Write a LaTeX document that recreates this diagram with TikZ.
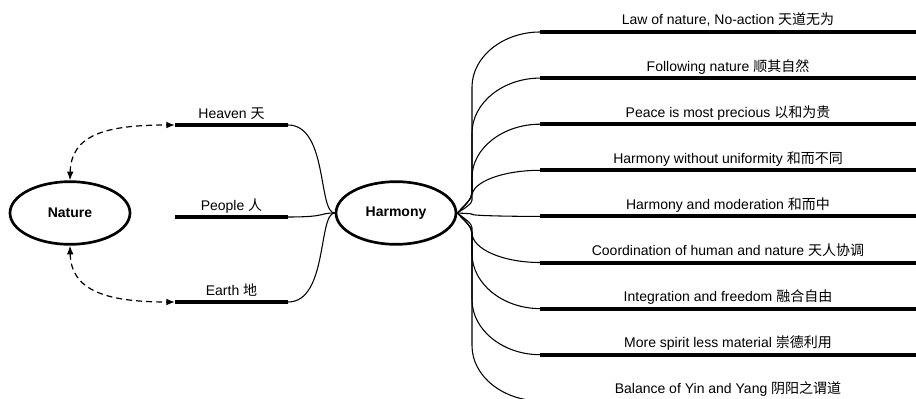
\documentclass[tikz,border=0pt]{standalone}
\usepackage{fontspec}
\setmainfont{Liberation Sans}
\newfontfamily\cjk{Noto Sans CJK SC}
\usetikzlibrary{arrows.meta,positioning,shapes.geometric}

\begin{document}
\begin{tikzpicture}[x=0.75pt,y=-0.75pt,
  every node/.style={font=\fontsize{10.5}{12}\selectfont},
  main node/.style={ellipse,draw,line width=2pt,minimum width=90pt,minimum height=47pt,font=\fontsize{10.5}{12}\selectfont\bfseries},
  bar/.style={line width=3pt},
  link/.style={line width=0.8pt},
  dash link/.style={line width=0.9pt,dash pattern=on 4.5pt off 3pt,{Latex[length=6.5pt,width=5pt]}-{Latex[length=6.5pt,width=5pt]}}]
\useasboundingbox (0,0) rectangle (916,399);
\clip (0,0) rectangle (916,399);

\node[main node] (nature) at (70,213) {Nature};
\node[main node] (harmony) at (396,213) {Harmony};

% heaven, people, earth
\foreach \name/\y/\txt in {heaven/125/{Heaven {\cjk 天}},people/217/{People {\cjk 人}},earth/302/{Earth {\cjk 地}}} {
  \coordinate (\name-l) at (175,\y);
  \coordinate (\name-r) at (288,\y);
  \draw[bar] (\name-l) -- (\name-r);
  \node[anchor=base] (\name) at (231.5,\y-7) {\txt};
  \draw[link] (\name-r) .. controls (328,\y) and (318,213) .. (harmony.west);
}

\draw[dash link] (nature.north) .. controls (71,135) and (105,125) .. (heaven-l);
\draw[dash link] (nature.south) .. controls (71,290) and (105,302) .. (earth-l);

% meanings of harmony
\foreach \i/\txt in {1/{Law of nature, No-action {\cjk 天道无为}},
                     2/{Following nature {\cjk 顺其自然}},
                     3/{Peace is most precious {\cjk 以和为贵}},
                     4/{Harmony without uniformity {\cjk 和而不同}},
                     5/{Harmony and moderation {\cjk 和而中}},
                     6/{Coordination of human and nature {\cjk 天人协调}},
                     7/{Integration and freedom {\cjk 融合自由}},
                     8/{More spirit less material {\cjk 崇德利用}},
                     9/{Balance of Yin and Yang {\cjk 阴阳之谓道}}} {
  \pgfmathsetmacro{\y}{32+46.1*(\i-1)}
  \pgfmathsetmacro{\a}{abs(\y-213)}
  \pgfmathsetmacro{\s}{sign(\y-213)}
  \pgfmathsetmacro{\m}{213+\s*min(20,0.3*\a)}
  \pgfmathsetmacro{\n}{\y-\s*min(55,0.6*\a)}
  \pgfmathsetmacro{\c}{\n+0.55*(\y-\n)}
  \coordinate (m\i-l) at (540,\y);
  \coordinate (m\i-r) at (916,\y);
  \draw[bar] (m\i-l) -- (m\i-r);
  \node[anchor=base] (m\i) at (728,\y-7) {\txt};
  \draw[link] (harmony.east) .. controls (465,{213+0.4*(\m-213)}) and (472,{213+0.7*(\m-213)}) .. (472,\m) -- (472,\n)
    .. controls (472,\c) and (503,\y) .. (m\i-l);
}
\end{tikzpicture}
\end{document}
